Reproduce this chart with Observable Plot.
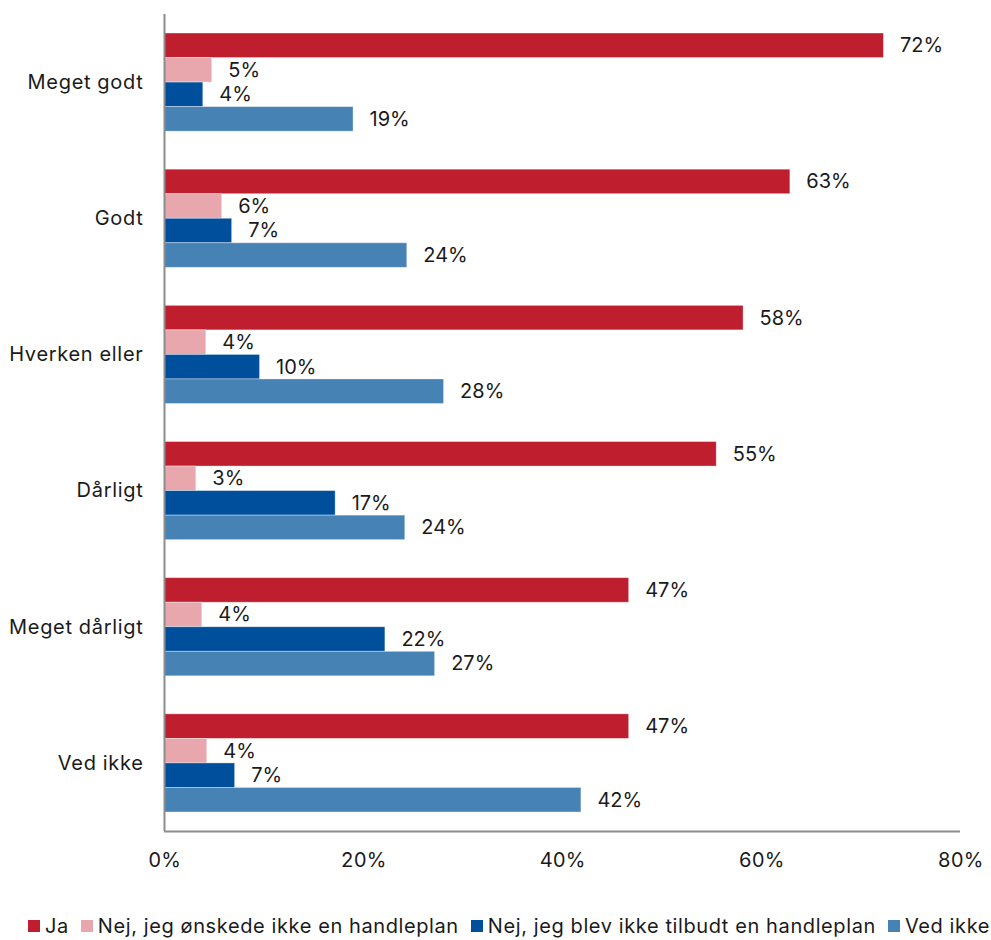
<!DOCTYPE html>
<html>
<head>
<meta charset="utf-8">
<script src="https://cdn.jsdelivr.net/npm/d3@7"></script>
<script src="https://cdn.jsdelivr.net/npm/@observablehq/plot@0.6"></script>
<style>
  html, body { margin: 0; padding: 0; background: #fff; }
  body { width: 991px; height: 940px; font-family: Inter, "Noto Sans", sans-serif; color: #1a1a1a; }
  #legend { display: flex; justify-content: flex-start; align-items: center; gap: 12px; margin-top: 34px; padding-left: 28px; font-size: 20px; line-height: 24px; letter-spacing: 0.6px; white-space: nowrap; }
  #legend .item { display: flex; align-items: center; gap: 5px; }
  #legend .sw { width: 12px; height: 12px; display: inline-block; }
  svg g[aria-label="y-axis tick label"] text { letter-spacing: 0.7px; }
</style>
</head>
<body>
<div id="chart"></div>
<div id="legend"></div>
<script>
const categories = ["Meget godt", "Godt", "Hverken eller", "Dårligt", "Meget dårligt", "Ved ikke"];
const seriesNames = ["Ja", "Nej, jeg ønskede ikke en handleplan", "Nej, jeg blev ikke tilbudt en handleplan", "Ved ikke"];
const colors = ["#BE1E2D", "#E8A6AD", "#004F9C", "#4682B4"];

// bar lengths (%)
const jaValues       = [72.3, 62.9, 58.2, 55.5, 46.7, 46.7];
const onskedeValues  = [4.8, 5.8, 4.2, 3.2, 3.8, 4.3];
const tilbudtValues  = [3.9, 6.8, 9.6, 17.2, 22.2, 7.1];
const vedIkkeValues  = [19.0, 24.4, 28.1, 24.2, 27.2, 41.9];

// data labels as printed (%)
const jaLabels      = [72, 63, 58, 55, 47, 47];
const onskedeLabels = [5, 6, 4, 3, 4, 4];
const tilbudtLabels = [4, 7, 10, 17, 22, 7];
const vedIkkeLabels = [19, 24, 28, 24, 27, 42];

const xTicks = [0, 20, 40, 60, 80];

const allValues = [jaValues, onskedeValues, tilbudtValues, vedIkkeValues];
const allLabels = [jaLabels, onskedeLabels, tilbudtLabels, vedIkkeLabels];

const gap = 1.55;               // spacing between groups, in bar units
const G = seriesNames.length + gap;
const total = categories.length * G;

const rows = categories.flatMap((c, i) => seriesNames.map((s, j) => ({
  cat: c, series: s,
  value: allValues[j][i], label: allLabels[j][i],
  y1: i * G + gap / 2 + j, y2: i * G + gap / 2 + j + 1
})));

const chart = Plot.plot({
  width: 991,
  height: 880,
  marginTop: 14,
  marginBottom: 49,
  marginLeft: 164,
  marginRight: 31,
  style: { fontFamily: "Inter, 'Noto Sans', sans-serif", fontSize: "20px", color: "#1a1a1a", background: "#fff" },
  x: { domain: [0, 80], ticks: xTicks, tickFormat: d => d + "%", tickSize: 0, tickPadding: 21, label: null },
  y: { domain: [0, total], reverse: true, ticks: categories.map((c, i) => i * G + G / 2),
       tickFormat: d => categories[Math.round((d - G / 2) / G)], tickSize: 0, tickPadding: 21, label: null },
  color: { domain: seriesNames, range: colors },
  marks: [
    Plot.rectX(rows, { x1: 0, x2: "value", y1: "y1", y2: "y2", fill: "series", stroke: "#fff", strokeOpacity: 0.45, strokeWidth: 0.8 }),
    Plot.text(rows, { x: "value", y: d => (d.y1 + d.y2) / 2, text: d => d.label + "%", dx: 16, textAnchor: "start", fill: "#1a1a1a", fontSize: 20 }),
    Plot.ruleX([0], { stroke: "#8c8c8c", strokeWidth: 2 }),
    Plot.ruleY([total], { stroke: "#8c8c8c", strokeWidth: 2 })
  ]
});
document.getElementById("chart").appendChild(chart);

const legend = document.getElementById("legend");
seriesNames.forEach((s, j) => {
  const item = document.createElement("span");
  item.className = "item";
  const sw = document.createElement("span");
  sw.className = "sw";
  sw.style.background = colors[j];
  const t = document.createElement("span");
  t.textContent = s;
  item.appendChild(sw);
  item.appendChild(t);
  legend.appendChild(item);
});
</script>
</body>
</html>
